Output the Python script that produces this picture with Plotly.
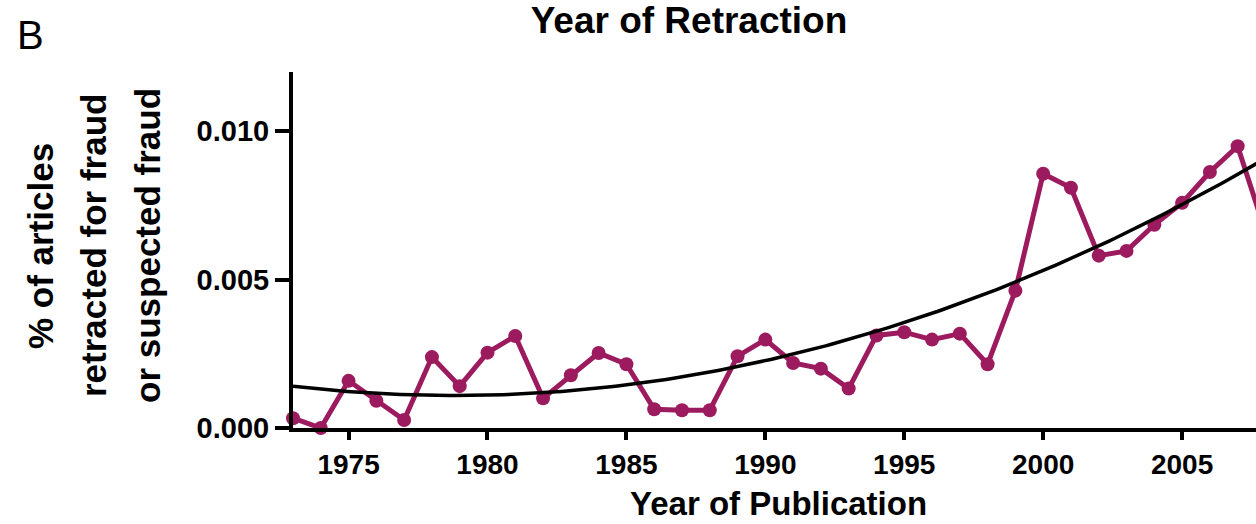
import numpy as np
import plotly.graph_objects as go

# Yearly share of articles retracted for fraud or suspected fraud
years = list(range(1973, 2009))
pct_fraud = [
    0.00033, 0.00000, 0.00159, 0.00092, 0.00027, 0.00239, 0.00141, 0.00254,
    0.00310, 0.00100, 0.00178, 0.00253, 0.00215, 0.00063, 0.00060, 0.00060,
    0.00242, 0.00298, 0.00219, 0.00200, 0.00133, 0.00312, 0.00323, 0.00298,
    0.00318, 0.00215, 0.00463, 0.00857, 0.00810, 0.00581, 0.00597, 0.00685,
    0.00759, 0.00863, 0.00950, 0.00660,
]

# Second-order trend readings
trend_years = [1973, 1980, 1985, 1990, 1995, 2000, 2005, 2007]
trend_values = [0.00144, 0.00106, 0.00144, 0.00228, 0.00352, 0.00541, 0.00750, 0.00852]

x_ticks = [1975, 1980, 1985, 1990, 1995, 2000, 2005]
y_ticks = [0.000, 0.005, 0.010]

coef = np.polyfit(trend_years, trend_values, 2)
fit_x = np.linspace(1973, 2008, 200)
fit_y = np.polyval(coef, fit_x)

MAROON = "#9c1a5e"
FONT = "Liberation Sans"

fig = go.Figure()
fig.add_trace(go.Scatter(
    x=years, y=pct_fraud, mode="lines+markers",
    line=dict(color=MAROON, width=5),
    marker=dict(color=MAROON, size=14),
    cliponaxis=False, showlegend=False,
))
fig.add_trace(go.Scatter(
    x=fit_x, y=fit_y, mode="lines",
    line=dict(color="black", width=3.5),
    showlegend=False,
))

L, T, B, W, H = 293, 72, 96, 1256, 524
plot_w = W - L
plot_h = H - T - B


def px_x(px):
    return (px - L) / plot_w


def px_y(py):
    return (H - B - py) / plot_h


annotations = [
    dict(text="B", x=px_x(30), y=px_y(35), xref="paper", yref="paper",
         showarrow=False, font=dict(family=FONT, size=40, color="black"),
         xanchor="center", yanchor="middle"),
    dict(text="<b>Year of Publication</b>", x=px_x(778), y=px_y(503),
         xref="paper", yref="paper", showarrow=False,
         font=dict(family=FONT, size=33, color="black"),
         xanchor="center", yanchor="middle"),
]
for cx, label in [(40, "% of articles"), (93, "retracted for fraud"),
                  (147, "or suspected fraud")]:
    annotations.append(dict(
        text="<b>" + label + "</b>", x=px_x(cx), y=px_y(246),
        xref="paper", yref="paper", showarrow=False, textangle=-90,
        font=dict(family=FONT, size=35, color="black"),
        xanchor="center", yanchor="middle",
    ))

fig.update_layout(
    width=W, height=H,
    margin=dict(l=L, r=0, t=T, b=B),
    paper_bgcolor="white", plot_bgcolor="white",
    title=dict(text="<b>Year of Retraction</b>", x=689 / W, y=1 - 20 / H,
               xref="container", yref="container",
               xanchor="center", yanchor="middle",
               font=dict(family=FONT, size=37, color="black")),
    annotations=annotations,
    xaxis=dict(
        range=[1973, 2007.66], tickvals=x_ticks, ticktext=[str(v) for v in x_ticks],
        showgrid=False, zeroline=False, showline=True, linecolor="black",
        linewidth=4, ticks="outside", ticklen=8, tickwidth=4, tickcolor="black",
        tickfont=dict(family=FONT, size=28, color="black", weight="bold"),
    ),
    yaxis=dict(
        range=[0, 0.012], tickvals=y_ticks, tickformat=".3f",
        showgrid=False, zeroline=False, showline=True, linecolor="black",
        linewidth=4, ticks="outside", ticklen=14, tickwidth=4, tickcolor="black",
        tickfont=dict(family=FONT, size=29, color="black", weight="bold"),
    ),
)

fig.write_html("out.html")
